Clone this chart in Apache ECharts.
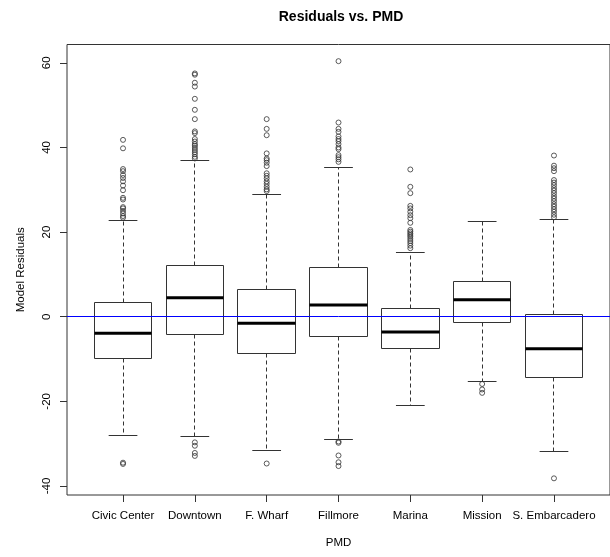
<!DOCTYPE html>
<html>
<head>
<meta charset="utf-8">
<title>Residuals vs. PMD</title>
<script src="https://cdn.jsdelivr.net/npm/echarts@6/dist/echarts.min.js"></script>
<style>
  html, body { margin: 0; padding: 0; background: #fff; }
  #chart { width: 610px; height: 557px; }
</style>
</head>
<body>
<div id="chart"></div>
<script>
// Districts along the x axis
const categories = ['Civic Center', 'Downtown', 'F. Wharf', 'Fillmore', 'Marina', 'Mission', 'S. Embarcadero'];

// Five-number summaries per district
const lowerWhisker = [-28.0, -28.4, -31.6, -29.1, -20.9, -15.4, -31.9];
const q1 = [-9.9, -4.25, -8.8, -4.56, -7.4, -1.25, -14.25];
const median = [-3.9, 4.5, -1.57, 2.77, -3.6, 4.0, -7.56];
const q3 = [3.3, 12.1, 6.55, 11.7, 1.9, 8.44, 0.64];
const upperWhisker = [22.8, 36.9, 28.9, 35.2, 15.2, 22.5, 23.0];

// Points beyond the whiskers
const outliers = [
  [41.8, 39.8, 34.9, 34.4, 33.5, 32.8, 32.0, 31.0, 29.9, 28.1, 27.7, 25.9, 25.6, 25.0, 24.4, 23.8, 23.4, -34.5, -34.8],
  [57.5, 57.2, 55.3, 54.4, 51.5, 48.9, 46.7, 43.8, 43.4, 42.0, 41.4, 40.8, 40.4, 39.9, 39.4, 38.9, 38.4, 37.8, 37.4, -29.7, -30.5, -32.2, -32.9],
  [46.7, 44.4, 42.9, 38.6, 37.4, 37.0, 36.4, 35.6, 33.9, 33.3, 32.7, 32.0, 31.4, 30.7, 30.1, 29.7, -34.7],
  [60.4, 45.9, 44.4, 43.7, 42.6, 42.0, 41.5, 40.8, 40.0, 39.6, 38.2, 37.7, 37.2, 36.6, -29.5, -29.8, -32.8, -34.4, -35.3],
  [34.8, 30.7, 29.2, 26.2, 25.6, 24.8, 24.0, 23.3, 22.2, 20.5, 20.1, 19.7, 19.3, 18.9, 18.4, 17.9, 17.4, 16.8, 16.2],
  [-15.9, -17.2, -18.0],
  [38.1, 35.7, 35.1, 34.4, 32.3, 31.7, 31.1, 30.4, 29.8, 29.2, 28.5, 27.9, 27.3, 26.6, 26.0, 25.4, 24.8, 24.1, 23.5, -38.2]
];

// Tick values
const yTicks = [-40, -20, 0, 20, 40, 60];
const xTicks = [1, 2, 3, 4, 5, 6, 7];

const FONT = 'Liberation Sans, Arial, sans-serif';
const INK = '#333';

const boxData = categories.map((c, i) => [i + 1, lowerWhisker[i], q1[i], median[i], q3[i], upperWhisker[i]]);
const outlierData = [];
outliers.forEach((arr, i) => arr.forEach(v => outlierData.push([i + 1, v])));

// Snap a coordinate to the pixel centre so 1px strokes stay crisp
const crisp = v => Math.round(v - 0.5) + 0.5;

function renderBox(params, api) {
  const x = api.value(0);
  const lo = api.value(1), a = api.value(2), m = api.value(3), b = api.value(4), hi = api.value(5);
  const halfBox = 0.4, halfCap = 0.2;
  const c = crisp(api.coord([x, 0])[0]);
  const boxL = crisp(api.coord([x - halfBox, 0])[0]);
  const boxR = crisp(api.coord([x + halfBox, 0])[0]);
  const capL = api.coord([x - halfCap, 0])[0];
  const capR = api.coord([x + halfCap, 0])[0];
  const yLo = crisp(api.coord([x, lo])[1]);
  const yA = crisp(api.coord([x, a])[1]);
  const yM = api.coord([x, m])[1];
  const yB = crisp(api.coord([x, b])[1]);
  const yHi = crisp(api.coord([x, hi])[1]);
  return {
    type: 'group',
    children: [
      { type: 'line', shape: { x1: c, y1: yB, x2: c, y2: yHi }, style: { stroke: INK, lineWidth: 1, lineDash: [4, 3] } },
      { type: 'line', shape: { x1: c, y1: yA, x2: c, y2: yLo }, style: { stroke: INK, lineWidth: 1, lineDash: [4, 3] } },
      { type: 'line', shape: { x1: capL, y1: yHi, x2: capR, y2: yHi }, style: { stroke: INK, lineWidth: 1 } },
      { type: 'line', shape: { x1: capL, y1: yLo, x2: capR, y2: yLo }, style: { stroke: INK, lineWidth: 1 } },
      { type: 'rect', shape: { x: boxL, y: yB, width: boxR - boxL, height: yA - yB }, style: { stroke: INK, lineWidth: 1, fill: 'none' } },
      { type: 'line', shape: { x1: boxL, y1: yM, x2: boxR, y2: yM }, style: { stroke: '#000', lineWidth: 3 } }
    ]
  };
}

const chart = echarts.init(document.getElementById('chart'), null, { renderer: 'canvas' });
chart.setOption({
  animation: false,
  backgroundColor: '#fff',
  textStyle: { fontFamily: FONT },
  graphic: [
    {
      type: 'text', x: 341, y: 17,
      style: { text: 'Residuals vs. PMD', font: 'bold 14px ' + FONT, fill: '#000', align: 'center', verticalAlign: 'middle' }
    }
  ],
  grid: {
    left: 67, top: 44.5, width: 548.6, height: 450.5,
    show: true, borderColor: INK, borderWidth: 1, backgroundColor: 'transparent',
    containLabel: false
  },
  xAxis: {
    type: 'value',
    position: 'bottom',
    min: 0.22, max: 7.78,
    name: 'PMD', nameLocation: 'middle', nameGap: 42,
    nameTextStyle: { fontSize: 11.5, color: '#000', fontFamily: FONT },
    axisLine: { show: false, onZero: false },
    splitLine: { show: false },
    axisTick: { show: true, length: 7, lineStyle: { color: INK }, customValues: xTicks },
    axisLabel: {
      customValues: xTicks, margin: 15, fontSize: 11.5, color: '#000', fontFamily: FONT,
      formatter: v => categories[Math.round(v) - 1] || ''
    }
  },
  yAxis: {
    type: 'value',
    position: 'left',
    min: -42.14, max: 64.34,
    name: 'Model Residuals', nameLocation: 'middle', nameGap: 40, nameRotate: 90,
    nameTextStyle: { fontSize: 11.5, color: '#000', fontFamily: FONT },
    axisLine: { show: false, onZero: false },
    splitLine: { show: false },
    axisTick: { show: true, length: 7, lineStyle: { color: INK }, customValues: yTicks },
    axisLabel: { customValues: yTicks, rotate: 90, margin: 14, fontSize: 11.5, color: '#000', fontFamily: FONT }
  },
  series: [
    {
      type: 'custom',
      name: 'box',
      renderItem: renderBox,
      data: boxData,
      encode: { x: 0, y: [1, 2, 3, 4, 5] },
      silent: true,
      z: 2
    },
    {
      type: 'scatter',
      name: 'outliers',
      data: outlierData,
      symbol: 'circle',
      symbolSize: 5,
      itemStyle: { color: 'rgba(0,0,0,0)', borderColor: INK, borderWidth: 1 },
      silent: true,
      z: 3,
      markLine: {
        silent: true,
        symbol: 'none',
        label: { show: false },
        lineStyle: { color: '#0000ff', width: 1, type: 'solid' },
        data: [{ yAxis: 0 }]
      }
    }
  ]
});
</script>
</body>
</html>
